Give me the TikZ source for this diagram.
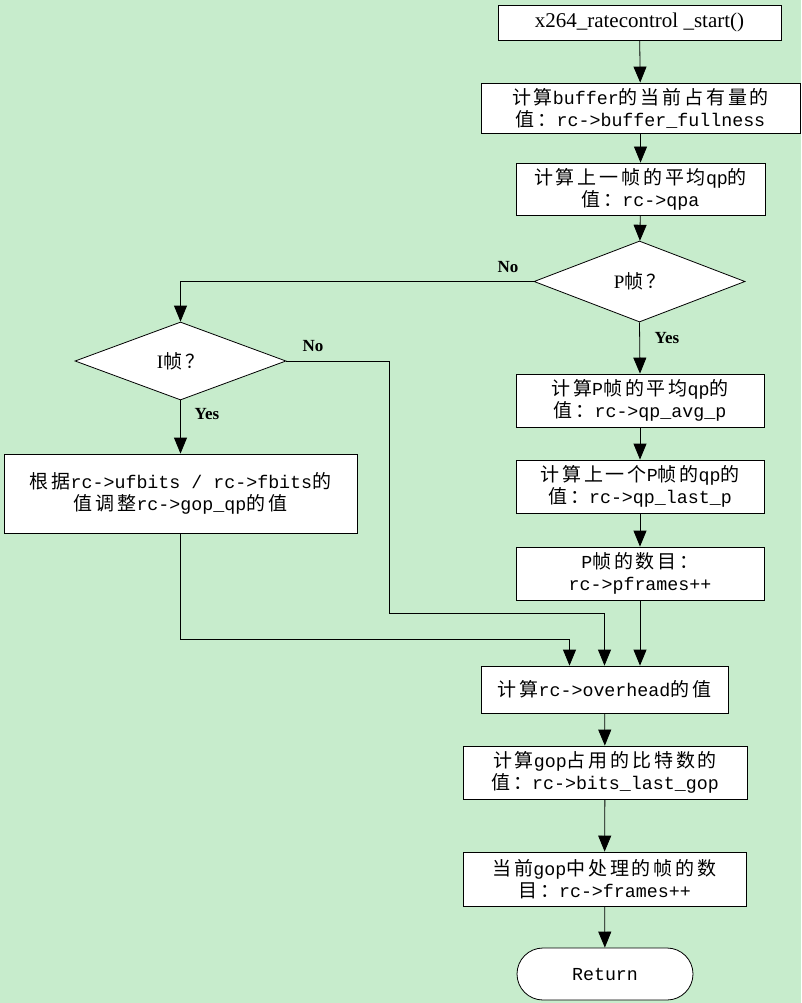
\documentclass[tikz,border=0pt]{standalone}
\usepackage{fontspec}
\setmainfont{Liberation Serif}
\newfontfamily\cjkf[LetterSpace=15]{Noto Sans CJK SC}
\newfontfamily\monof{Liberation Mono}
\newcommand\Z[1]{{\cjkf\fontsize{19}{22}\selectfont #1}}
\newcommand\T[1]{{\monof\fontsize{18.3}{22}\selectfont #1}}
\usetikzlibrary{shapes.geometric,arrows.meta,calc}
\definecolor{bgc}{RGB}{199,236,204}
\begin{document}
\begin{tikzpicture}[x=1pt,y=-1pt,
  box/.style={draw=black,fill=white,line width=0.8pt,inner sep=0pt,align=center,font=\fontsize{18}{22}\selectfont},
  dec/.style={diamond,draw=black,fill=white,line width=0.8pt,inner sep=0pt,font=\fontsize{19}{22}\selectfont},
  arr/.style={line width=0.8pt,-{Triangle[length=16pt,width=13pt]}},
  lbl/.style={font=\bfseries\fontsize{17}{19}\selectfont}]
\fill[bgc] (0,0) rectangle (801,1003);
\node[box,minimum width=283,minimum height=35,font=\fontsize{21}{24}\selectfont] (start) at (639.5,22.5) {x264\_ratecontrol \_start()};
\node[box,minimum width=319,minimum height=50] (buf) at (640.5,108) {\Z{计算}\T{buffer}\Z{的当前占有量的}\\\Z{值：}\T{rc->buffer\_fullness}};
\node[box,minimum width=249,minimum height=52] (qpa) at (640.5,189) {\Z{计算上一帧的平均}\T{qp}\Z{的}\\\Z{值：}\T{rc->qpa}};
\node[dec,minimum width=211,minimum height=81] (P) at (639.5,281.5) {P\Z{帧？}};
\node[dec,minimum width=211,minimum height=78] (I) at (180.5,361) {I\Z{帧？}};
\node[box,minimum width=353,minimum height=79] (gop) at (180.5,493.5) {\Z{根据}\T{rc->ufbits / rc->fbits}\Z{的}\\\Z{值调整}\T{rc->gop\_qp}\Z{的值}};
\node[box,minimum width=248,minimum height=53] (avg) at (640,400.5) {\Z{计算}\T{P}\Z{帧的平均}\T{qp}\Z{的}\\\Z{值：}\T{rc->qp\_avg\_p}};
\node[box,minimum width=248,minimum height=53] (last) at (640,486.5) {\Z{计算上一个}\T{P}\Z{帧的}\T{qp}\Z{的}\\\Z{值：}\T{rc->qp\_last\_p}};
\node[box,minimum width=248,minimum height=53] (pfr) at (640,573.5) {\T{P}\Z{帧的数目：}\\\T{rc->pframes++}};
\node[box,minimum width=247,minimum height=47] (ovh) at (604.5,689.5) {\Z{计算}\T{rc->overhead}\Z{的值}};
\node[box,minimum width=284,minimum height=53] (bits) at (605,772.5) {\Z{计算}\T{gop}\Z{占用的比特数的}\\\Z{值：}\T{rc->bits\_last\_gop}};
\node[box,minimum width=283,minimum height=54] (frm) at (604.5,879) {\Z{当前}\T{gop}\Z{中处理的帧的数}\\\Z{目：}\T{rc->frames++}};
\node[box,minimum width=176,minimum height=52,rounded corners=26pt] (ret) at (605,974) {\T{Return}};
% connectors
\draw[arr] (start) -- (buf);
\draw[arr] (buf) -- (qpa);
\draw[arr] (qpa) -- (P);
\draw[arr] (P.west) -| (I.north);
\draw[arr] (P.south) -- (avg.north);
\draw[arr] (avg) -- (last);
\draw[arr] (last) -- (pfr);
\draw[arr] (I.south) -- (gop.north);
\coordinate (ia) at (389,613);
\draw[arr] (I.east) -| (ia) -| (ovh.north);
\coordinate (ga) at ($(ovh.north)+(-35,0)$);
\draw[arr] (gop.south) |- ($(ga)+(0,-26)$) -- (ga);
\draw[arr] (pfr.south) -- (pfr.south |- ovh.north);
\draw[arr] (ovh) -- (bits);
\draw[arr] (bits) -- (frm);
\draw[arr] (frm) -- (ret);
% labels
\node[lbl] (l1) at (508,267) {No};
\node[lbl] (l2) at (667,338) {Yes};
\node[lbl] (l3) at (313,346) {No};
\node[lbl] (l4) at (207,414) {Yes};
\end{tikzpicture}
\end{document}
